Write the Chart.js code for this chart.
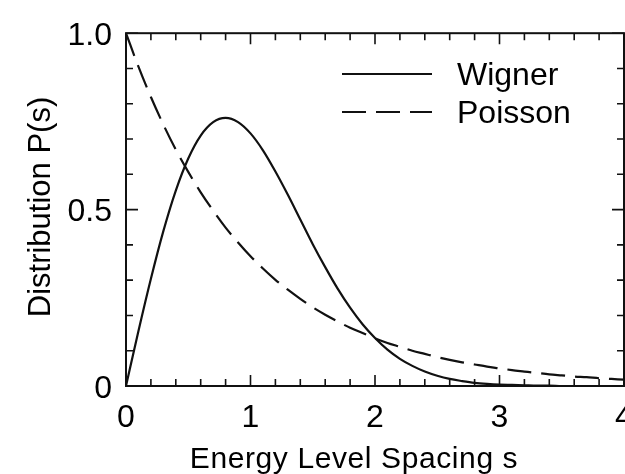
<!DOCTYPE html>
<html lang="en">

<head>
    <meta charset="UTF-8">
    <title>Energy Level Spacing Distribution</title>
    <script src="https://cdn.jsdelivr.net/npm/chart.js"></script>
    <style>
        html, body { margin: 0; padding: 0; background: #fff; }
    </style>
</head>

<body>
    <canvas id="spacingChart" width="625" height="474"></canvas>
    <script>
        // values
        const spacing = [0, 0.1, 0.2, 0.3, 0.4, 0.5, 0.6, 0.7, 0.8, 0.9,
            1.0, 1.1, 1.2, 1.3, 1.4, 1.5, 1.6, 1.7, 1.8, 1.9,
            2.0, 2.1, 2.2, 2.3, 2.4, 2.5, 2.6, 2.7, 2.8, 2.9,
            3.0, 3.1, 3.2, 3.3, 3.4, 3.5, 3.6, 3.7, 3.8, 3.9, 4.0];
        const wigner = [0, 0.156, 0.304, 0.439, 0.554, 0.645, 0.710, 0.748, 0.760, 0.748,
            0.716, 0.668, 0.608, 0.542, 0.472, 0.402, 0.337, 0.276, 0.222, 0.175,
            0.136, 0.103, 0.077, 0.057, 0.041, 0.029, 0.020, 0.014, 0.009, 0.006,
            0.004, 0.003, 0.002, 0.001, 0.001, 0.000, 0, 0, 0, 0, 0];
        const poisson = [1.000, 0.905, 0.819, 0.741, 0.670, 0.607, 0.549, 0.497, 0.449, 0.407,
            0.368, 0.333, 0.301, 0.273, 0.247, 0.223, 0.202, 0.183, 0.165, 0.150,
            0.135, 0.122, 0.111, 0.100, 0.091, 0.082, 0.074, 0.067, 0.061, 0.055,
            0.050, 0.045, 0.041, 0.037, 0.033, 0.030, 0.027, 0.025, 0.022, 0.020, 0.018];

        const xTickLabels = ['0', '1', '2', '3', '4'];
        const yTickLabels = { 0: '0', 0.5: '0.5', 1: '1.0' };
        const seriesNames = ['Wigner', 'Poisson'];

        const ink = '#111';
        const fontFamily = '"Liberation Sans", Arial, Helvetica, sans-serif';

        function toPoints(ys) {
            return spacing.map((s, i) => ({ x: s, y: ys[i] }));
        }

        // frame, inward ticks on all four sides, axis titles and the legend
        const framePlugin = {
            id: 'frame',
            afterDraw(chart) {
                const ctx = chart.ctx;
                const area = chart.chartArea;
                const xs = chart.scales.x;
                const ys = chart.scales.y;
                ctx.save();
                ctx.strokeStyle = ink;
                ctx.lineWidth = 2;
                ctx.strokeRect(area.left, area.top, area.right - area.left, area.bottom - area.top);

                ctx.lineWidth = 1.6;
                ctx.beginPath();
                for (let i = 0; i <= 20; i++) {
                    const px = xs.getPixelForValue(i * 0.2);
                    const len = i % 5 === 0 ? 11 : 7;
                    ctx.moveTo(px, area.bottom); ctx.lineTo(px, area.bottom - len);
                    ctx.moveTo(px, area.top); ctx.lineTo(px, area.top + len);
                }
                for (let i = 0; i <= 10; i++) {
                    const py = ys.getPixelForValue(i * 0.1);
                    const len = i % 5 === 0 ? 12 : 7;
                    ctx.moveTo(area.left, py); ctx.lineTo(area.left + len, py);
                    ctx.moveTo(area.right, py); ctx.lineTo(area.right - len, py);
                }
                ctx.stroke();

                // axis titles
                ctx.fillStyle = '#000';
                ctx.font = '30px ' + fontFamily;
                ctx.textAlign = 'center';
                ctx.textBaseline = 'alphabetic';
                ctx.letterSpacing = '0.6px';
                ctx.fillText('Energy Level Spacing s', 354, 468);
                ctx.letterSpacing = '0px';
                ctx.save();
                ctx.translate(50, 207);
                ctx.rotate(-Math.PI / 2);
                ctx.font = '31px ' + fontFamily;
                ctx.fillText('Distribution P(s)', 0, 0);
                ctx.restore();

                // legend
                ctx.textAlign = 'left';
                ctx.font = '32px ' + fontFamily;
                chart.data.datasets.forEach((ds, i) => {
                    const y = 74 + i * 38;
                    ctx.strokeStyle = ds.borderColor;
                    ctx.lineWidth = ds.borderWidth;
                    ctx.setLineDash(ds.borderDash || []);
                    ctx.beginPath();
                    ctx.moveTo(342, y);
                    ctx.lineTo(432, y);
                    ctx.stroke();
                    ctx.setLineDash([]);
                    ctx.fillText(ds.label, 457, y + 11);
                });
                ctx.restore();
            }
        };

        new Chart(document.getElementById('spacingChart').getContext('2d'), {
            type: 'line',
            data: {
                datasets: [{
                    label: seriesNames[0],
                    data: toPoints(wigner),
                    borderColor: ink,
                    borderWidth: 2.2,
                    pointRadius: 0,
                    cubicInterpolationMode: 'monotone',
                    fill: false
                }, {
                    label: seriesNames[1],
                    data: toPoints(poisson),
                    borderColor: ink,
                    borderWidth: 2.2,
                    borderDash: [24, 10],
                    pointRadius: 0,
                    cubicInterpolationMode: 'monotone',
                    fill: false
                }]
            },
            options: {
                responsive: false,
                animation: false,
                layout: { padding: { top: 24, right: 1, left: 0, bottom: 0 } },
                plugins: {
                    legend: { display: false },
                    tooltip: { enabled: false }
                },
                scales: {
                    x: {
                        type: 'linear',
                        min: 0,
                        max: 4,
                        grid: { display: false, drawTicks: false },
                        border: { display: false },
                        ticks: {
                            stepSize: 1,
                            padding: 13,
                            maxRotation: 0,
                            autoSkip: false,
                            color: '#000',
                            font: { family: fontFamily, size: 32 },
                            callback: v => xTickLabels[v]
                        },
                        afterFit(scale) {
                            scale.height = 88;
                            scale.paddingLeft = 0;
                            scale.paddingRight = 0;
                        }
                    },
                    y: {
                        min: 0,
                        max: 1,
                        grid: { display: false, drawTicks: false },
                        border: { display: false },
                        ticks: {
                            stepSize: 0.5,
                            padding: 14,
                            labelOffset: 3,
                            color: '#000',
                            font: { family: fontFamily, size: 32 },
                            callback: v => yTickLabels[v]
                        },
                        afterFit(scale) {
                            scale.width = 126;
                        }
                    }
                }
            },
            plugins: [framePlugin]
        });
    </script>
</body>

</html>
